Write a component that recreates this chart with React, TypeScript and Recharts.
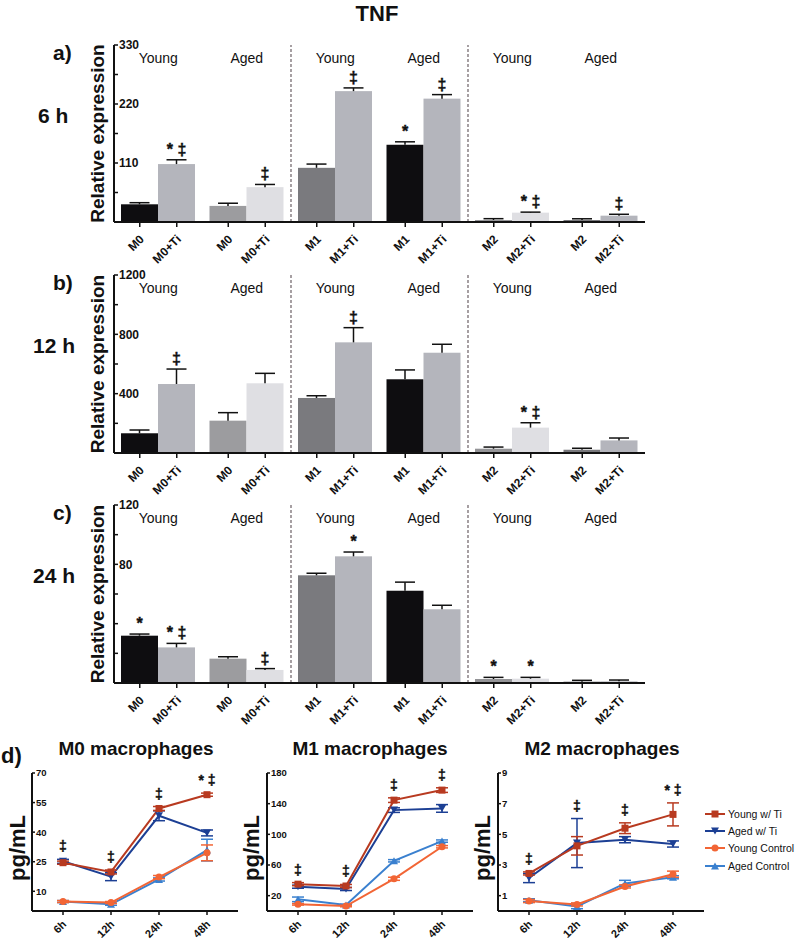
import React from "react"
import {
  BarChart,
  Bar,
  Cell,
  XAxis,
  YAxis,
  ReferenceLine,
  LineChart,
  Line,
  ErrorBar,
  LabelList,
} from "recharts"

const FONT = '"Liberation Sans", Arial, sans-serif'
const INK = "#111"

// ---- bar panels (a, b, c) ----
const groups = ["M0 Young", "M0 Aged", "M1 Young", "M1 Aged", "M2 Young", "M2 Aged"]
const groupAge = ["Young", "Aged", "Young", "Aged", "Young", "Aged"]
const ctrlLabels = ["M0", "M0", "M1", "M1", "M2", "M2"]
const tiLabels = ["M0+Ti", "M0+Ti", "M1+Ti", "M1+Ti", "M2+Ti", "M2+Ti"]
const ctrlColors = ["#0e0d10", "#9c9c9f", "#7a7a7e", "#0e0d10", "#949497", "#78787c"]
const tiColors = ["#b4b5bc", "#dfdfe3", "#b4b5bc", "#b4b5bc", "#dfdfe3", "#b4b5bc"]

// 6 h
const ctrl6h = [33, 30, 101, 144, 3.7, 3.7]
const ctrl6hErr = [3, 5, 7, 5.5, 2.5, 2.3]
const ctrl6hSig = ["", "", "", "*", "", ""]
const ti6h = [108, 65, 244, 230, 17.4, 11.8]
const ti6hErr = [8, 5, 6, 7.5, 1, 2.6]
const ti6hSig = ["* ‡", "‡", "‡", "‡", "* ‡", "‡"]
const ticks6h = [0, 55, 110, 165, 220, 275, 330]
const labels6h = [110, 220, 330]

// 12 h
const ctrl12h = [133, 218, 371, 497, 29, 22]
const ctrl12hErr = [22, 54, 15, 63, 11, 10]
const ctrl12hSig = ["", "", "", "", "", ""]
const ti12h = [465, 470, 746, 676, 171, 85]
const ti12hErr = [101, 67, 99, 57, 33, 16]
const ti12hSig = ["‡", "", "‡", "", "* ‡", ""]
const ticks12h = [0, 200, 400, 600, 800, 1000, 1200]
const labels12h = [400, 800, 1200]

// 24 h
const ctrl24h = [31.9, 16.4, 72.6, 62.2, 2.7, 0.9]
const ctrl24hErr = [1.1, 1.3, 1.4, 5.8, 1.1, 0.9]
const ctrl24hSig = ["*", "", "", "", "*", ""]
const ti24h = [24, 8.8, 85.4, 49.7, 2.9, 1.1]
const ti24hErr = [2.7, 0.9, 2.9, 2.7, 0.9, 0.9]
const ti24hSig = ["* ‡", "‡", "*", "", "*", ""]
const ticks24h = [0, 20, 40, 60, 80, 100, 120]
const labels24h = [80, 120]

const BAR_SIZE = 37
const X_AXIS_H = 52

function ErrBar(props: any) {
  const { x, y, width, height, fill, payload, valKey, errKey, sigKey } = props
  const v = payload[valKey]
  const k = v ? height / v : 0
  const top = y - payload[errKey] * k
  const cx = x + width / 2
  const cap = width * 0.27
  const sig = payload[sigKey]
  return (
    <g>
      <rect x={x} y={y} width={width} height={height} fill={fill} />
      <line x1={cx} x2={cx} y1={y} y2={top} stroke={INK} strokeWidth={1.5} />
      <line x1={cx - cap} x2={cx + cap} y1={top} y2={top} stroke={INK} strokeWidth={1.5} />
      {sig ? (
        <text
          x={cx}
          y={top - 5}
          textAnchor="middle"
          fontSize={16}
          fontWeight="bold"
          fill={INK}
          stroke={INK}
          strokeWidth={0.4}
          fontFamily={FONT}
        >
          {sig}
        </text>
      ) : null}
    </g>
  )
}

function BarTick(props: any) {
  const { x, y, payload } = props
  const i = groups.indexOf(payload.value)
  const items = [
    { dx: -BAR_SIZE / 2, text: ctrlLabels[i] },
    { dx: BAR_SIZE / 2, text: tiLabels[i] },
  ]
  return (
    <g>
      {items.map((it, j) => {
        const tx = x + it.dx + 5
        const ty = y + 16
        return (
          <g key={j}>
            <line x1={x + it.dx} x2={x + it.dx} y1={y - 2} y2={y + 3} stroke={INK} strokeWidth={1.5} />
            <text
              x={tx}
              y={ty}
              textAnchor="end"
              transform={`rotate(-45 ${tx} ${ty})`}
              fontSize={12}
              fontWeight="bold"
              fill={INK}
              fontFamily={FONT}
            >
              {it.text}
            </text>
          </g>
        )
      })}
    </g>
  )
}

interface BarPanelProps {
  plotTop: number
  plotBottom: number
  ctrl: number[]
  ctrlErr: number[]
  ctrlSig: string[]
  ti: number[]
  tiErr: number[]
  tiSig: string[]
  ticks: number[]
  labels: number[]
}

function BarPanel(p: BarPanelProps) {
  const data = groups.map((g, i) => ({
    group: g,
    ctrl: p.ctrl[i],
    ctrlErr: p.ctrlErr[i],
    ctrlSig: p.ctrlSig[i],
    ti: p.ti[i],
    tiErr: p.tiErr[i],
    tiSig: p.tiSig[i],
  }))
  const yMax = p.ticks[p.ticks.length - 1]
  return (
    <div style={{ position: "absolute", left: 0, top: p.plotTop - 15 }}>
      <BarChart
        width={700}
        height={p.plotBottom - p.plotTop + 15 + X_AXIS_H}
        data={data}
        margin={{ top: 15, right: 55, bottom: 0, left: 114 }}
        barSize={BAR_SIZE}
        barGap={0}
      >
        <XAxis
          dataKey="group"
          height={X_AXIS_H}
          tickSize={0}
          tickLine={false}
          axisLine={{ stroke: INK, strokeWidth: 2 }}
          tick={<BarTick />}
          interval={0}
        />
        <YAxis
          type="number"
          domain={[0, yMax]}
          ticks={p.ticks}
          interval={0}
          mirror
          tickSize={4}
          tickMargin={1}
          axisLine={{ stroke: INK, strokeWidth: 2 }}
          tickLine={{ stroke: INK, strokeWidth: 1.5 }}
          tick={{ fontSize: 12, fontWeight: "bold", fill: INK, fontFamily: FONT }}
          tickFormatter={(v: number) => (p.labels.includes(v) ? String(v) : "")}
        />
        {groups.map((g, i) => (
          <ReferenceLine
            key={g}
            x={g}
            stroke="none"
            label={{ value: groupAge[i], position: "insideTop", offset: 8, fontSize: 14, fill: INK, fontFamily: FONT }}
          />
        ))}
        <ReferenceLine x={groups[2]} position="start" stroke="#6d6166" strokeWidth={1.2} strokeDasharray="3 2" />
        <ReferenceLine x={groups[4]} position="start" stroke="#6d6166" strokeWidth={1.2} strokeDasharray="3 2" />
        <Bar
          dataKey="ctrl"
          isAnimationActive={false}
          shape={(s: any) => <ErrBar {...s} valKey="ctrl" errKey="ctrlErr" sigKey="ctrlSig" />}
        >
          {data.map((_, i) => (
            <Cell key={i} fill={ctrlColors[i]} />
          ))}
        </Bar>
        <Bar
          dataKey="ti"
          isAnimationActive={false}
          shape={(s: any) => <ErrBar {...s} valKey="ti" errKey="tiErr" sigKey="tiSig" />}
        >
          {data.map((_, i) => (
            <Cell key={i} fill={tiColors[i]} />
          ))}
        </Bar>
      </BarChart>
    </div>
  )
}

// ---- line panels (d) ----
const times = ["6h", "12h", "24h", "48h"]

const m0YoungTi = [24.5, 19.8, 52, 59]
const m0YoungTiErr = [0.8, 1, 1, 0.8]
const m0AgedTi = [25.2, 17.4, 48.3, 39.6]
const m0AgedTiErr = [1, 2, 2.5, 1.5]
const m0YoungCtrl = [4.8, 4.3, 17.2, 29.5]
const m0YoungCtrlErr = [0.5, 0.5, 0.8, 4]
const m0AgedCtrl = [4.8, 3.4, 16, 30.9]
const m0AgedCtrlErr = [0.5, 0.5, 0.8, 5.5]
const m0Sig = ["‡", "‡", "‡", "* ‡"]
const m0Ticks = [10, 25, 40, 55, 70]

const m1YoungTi = [35, 32.6, 144.6, 157.7]
const m1YoungTiErr = [2, 2, 3, 3]
const m1AgedTi = [31.7, 28.7, 131.6, 133.8]
const m1AgedTiErr = [2, 2, 3, 5]
const m1YoungCtrl = [8.7, 6.5, 42, 83.8]
const m1YoungCtrlErr = [1, 1, 2, 1.5]
const m1AgedCtrl = [15.2, 7.8, 65.5, 91.2]
const m1AgedCtrlErr = [3, 1, 1.5, 1.5]
const m1Sig = ["‡", "‡", "‡", "‡"]
const m1Ticks = [20, 60, 100, 140, 180]

const m2YoungTi = [2.45, 4.25, 5.4, 6.3]
const m2YoungTiErr = [0.1, 0.6, 0.35, 0.75]
const m2AgedTi = [2.15, 4.43, 4.65, 4.37]
const m2AgedTiErr = [0.3, 1.6, 0.2, 0.2]
const m2YoungCtrl = [0.65, 0.43, 1.6, 2.4]
const m2YoungCtrlErr = [0.1, 0.1, 0.1, 0.2]
const m2AgedCtrl = [0.7, 0.3, 1.8, 2.2]
const m2AgedCtrlErr = [0.1, 0.15, 0.2, 0.1]
const m2Sig = ["‡", "‡", "‡", "* ‡"]
const m2Ticks = [1, 3, 5, 7, 9]

const series = [
  { key: "youngTi", name: "Young w/ Ti", color: "#b83a20", shape: "square" },
  { key: "agedTi", name: "Aged w/ Ti", color: "#1c3f94", shape: "down" },
  { key: "youngCtrl", name: "Young Control", color: "#f26535", shape: "circle" },
  { key: "agedCtrl", name: "Aged Control", color: "#3a80cf", shape: "up" },
]

function Marker({ cx, cy, shape, color }: any) {
  const r = 3.5
  if (shape === "square") return <rect x={cx - r} y={cy - r} width={2 * r} height={2 * r} fill={color} />
  if (shape === "circle") return <circle cx={cx} cy={cy} r={r} fill={color} />
  if (shape === "down")
    return <polygon points={`${cx - r - 0.5},${cy - r} ${cx + r + 0.5},${cy - r} ${cx},${cy + r}`} fill={color} />
  return <polygon points={`${cx - r - 0.5},${cy + r} ${cx + r + 0.5},${cy + r} ${cx},${cy - r}`} fill={color} />
}

function TimeTick(props: any) {
  const { x, y, payload } = props
  const tx = x + 4
  const ty = y + 8
  return (
    <text
      x={tx}
      y={ty}
      textAnchor="end"
      transform={`rotate(-45 ${tx} ${ty})`}
      fontSize={11}
      fontWeight="bold"
      fill={INK}
      fontFamily={FONT}
    >
      {payload.value}
    </text>
  )
}

interface LinePanelProps {
  left: number
  vals: number[][]
  errs: number[][]
  sig: string[]
  ticks: number[]
}

function LinePanel(p: LinePanelProps) {
  const data = times.map((t, i) => {
    const row: any = { time: t, sig: p.sig[i] }
    series.forEach((s, j) => {
      row[s.key] = p.vals[j][i]
      row[s.key + "Err"] = p.errs[j][i]
    })
    return row
  })
  const yMax = p.ticks[p.ticks.length - 1]
  const sigTop = (d: any) => Math.max(...series.map((s) => d[s.key] + d[s.key + "Err"]))
  return (
    <div style={{ position: "absolute", left: p.left, top: 760 }}>
      <LineChart width={250} height={180} data={data} margin={{ top: 13, right: 12, bottom: 0, left: 32 }}>
        <XAxis
          dataKey="time"
          height={29}
          padding={{ left: 31, right: 31 }}
          tickSize={4}
          axisLine={{ stroke: INK, strokeWidth: 2 }}
          tickLine={{ stroke: INK, strokeWidth: 1.5 }}
          tick={<TimeTick />}
          interval={0}
        />
        <YAxis
          type="number"
          domain={[0, yMax]}
          ticks={p.ticks}
          interval={0}
          mirror
          tickSize={3}
          tickMargin={1}
          axisLine={{ stroke: INK, strokeWidth: 2 }}
          tickLine={{ stroke: INK, strokeWidth: 1.5 }}
          tick={{ fontSize: 9.5, fontWeight: "bold", fill: INK, fontFamily: FONT }}
        />
        {[...series].reverse().map((s) => (
          <Line
            key={s.key}
            dataKey={s.key}
            stroke={s.color}
            strokeWidth={2}
            isAnimationActive={false}
            activeDot={false}
            dot={(d: any) => <Marker key={`${s.key}-${d.index}`} cx={d.cx} cy={d.cy} shape={s.shape} color={s.color} />}
          >
            <ErrorBar dataKey={s.key + "Err"} width={6} strokeWidth={1.5} stroke={s.color} />
          </Line>
        ))}
        <Line dataKey={sigTop} stroke="none" dot={false} activeDot={false} isAnimationActive={false} legendType="none">
          <LabelList
            dataKey="sig"
            content={(l: any) => (
              <text
                x={l.x}
                y={l.y - 8}
                textAnchor="middle"
                fontSize={14}
                fontWeight="bold"
                fill={INK}
                stroke={INK}
                strokeWidth={0.4}
                fontFamily={FONT}
              >
                {l.value}
              </text>
            )}
          />
        </Line>
      </LineChart>
    </div>
  )
}

function LegendBox() {
  return (
    <div style={{ position: "absolute", left: 705, top: 805, fontFamily: FONT, fontSize: 10.5, color: INK }}>
      {series.map((s) => (
        <div key={s.key} style={{ display: "flex", alignItems: "center", height: 17.3, whiteSpace: "nowrap" }}>
          <svg width={21} height={10}>
            <line x1={0} x2={20} y1={5} y2={5} stroke={s.color} strokeWidth={2} />
            <Marker cx={10} cy={5} shape={s.shape} color={s.color} />
          </svg>
          <span style={{ marginLeft: 2 }}>{s.name}</span>
        </div>
      ))}
    </div>
  )
}

const sideLabels = [
  { letter: "a)", time: "6 h", top: 45, bottom: 222 },
  { letter: "b)", time: "12 h", top: 275, bottom: 453 },
  { letter: "c)", time: "24 h", top: 505, bottom: 683 },
]

const lineTitles = [
  { text: "M0 macrophages", x: 136, ylab: 25 },
  { text: "M1 macrophages", x: 370, ylab: 259 },
  { text: "M2 macrophages", x: 602, ylab: 490 },
]

export default function App() {
  return (
    <div
      style={{
        position: "absolute",
        left: 0,
        top: 0,
        width: 800,
        height: 940,
        background: "#fff",
        overflow: "hidden",
        fontFamily: FONT,
      }}
    >
      <svg width={800} height={940} style={{ position: "absolute", left: 0, top: 0 }} fontFamily={FONT} fill={INK}>
        <text x={377} y={21} textAnchor="middle" fontSize={22} fontWeight="bold">
          TNF
        </text>
        {sideLabels.map((s) => (
          <g key={s.letter}>
            <text x={53} y={s.top + 15} fontSize={21} fontWeight="bold">
              {s.letter}
            </text>
            <text x={s.time.length > 3 ? 33 : 38} y={(s.top + s.bottom) / 2 - 11} fontSize={21} fontWeight="bold">
              {s.time}
            </text>
            <text
              x={104}
              y={(s.top + s.bottom) / 2}
              textAnchor="middle"
              fontSize={19}
              fontWeight="bold"
              transform={`rotate(-90 104 ${(s.top + s.bottom) / 2})`}
            >
              Relative expression
            </text>
          </g>
        ))}
        <text x={1} y={763} fontSize={22} fontWeight="bold">
          d)
        </text>
        {lineTitles.map((t) => (
          <g key={t.text}>
            <text x={t.x} y={755} textAnchor="middle" fontSize={19} fontWeight="bold">
              {t.text}
            </text>
            <text
              x={t.ylab}
              y={848}
              textAnchor="middle"
              fontSize={22}
              fontWeight="bold"
              transform={`rotate(-90 ${t.ylab} 848)`}
            >
              pg/mL
            </text>
          </g>
        ))}
      </svg>

      <BarPanel
        plotTop={45}
        plotBottom={222}
        ctrl={ctrl6h}
        ctrlErr={ctrl6hErr}
        ctrlSig={ctrl6hSig}
        ti={ti6h}
        tiErr={ti6hErr}
        tiSig={ti6hSig}
        ticks={ticks6h}
        labels={labels6h}
      />
      <BarPanel
        plotTop={275}
        plotBottom={453}
        ctrl={ctrl12h}
        ctrlErr={ctrl12hErr}
        ctrlSig={ctrl12hSig}
        ti={ti12h}
        tiErr={ti12hErr}
        tiSig={ti12hSig}
        ticks={ticks12h}
        labels={labels12h}
      />
      <BarPanel
        plotTop={505}
        plotBottom={683}
        ctrl={ctrl24h}
        ctrlErr={ctrl24hErr}
        ctrlSig={ctrl24hSig}
        ti={ti24h}
        tiErr={ti24hErr}
        tiSig={ti24hSig}
        ticks={ticks24h}
        labels={labels24h}
      />

      <LinePanel
        left={0}
        vals={[m0YoungTi, m0AgedTi, m0YoungCtrl, m0AgedCtrl]}
        errs={[m0YoungTiErr, m0AgedTiErr, m0YoungCtrlErr, m0AgedCtrlErr]}
        sig={m0Sig}
        ticks={m0Ticks}
      />
      <LinePanel
        left={235}
        vals={[m1YoungTi, m1AgedTi, m1YoungCtrl, m1AgedCtrl]}
        errs={[m1YoungTiErr, m1AgedTiErr, m1YoungCtrlErr, m1AgedCtrlErr]}
        sig={m1Sig}
        ticks={m1Ticks}
      />
      <LinePanel
        left={466}
        vals={[m2YoungTi, m2AgedTi, m2YoungCtrl, m2AgedCtrl]}
        errs={[m2YoungTiErr, m2AgedTiErr, m2YoungCtrlErr, m2AgedCtrlErr]}
        sig={m2Sig}
        ticks={m2Ticks}
      />
      <LegendBox />
    </div>
  )
}
